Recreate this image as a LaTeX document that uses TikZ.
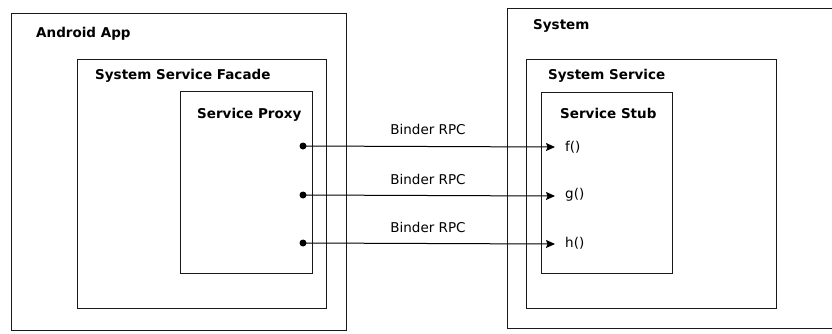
\documentclass[tikz,border=0pt]{standalone}
\usepackage{fontspec}
\setmainfont{DejaVu Sans}
\usetikzlibrary{arrows.meta}
\begin{document}
\begin{tikzpicture}[x=1pt,y=-1pt,
  box/.style={draw=black!90,line width=1pt,anchor=north west,inner sep=0pt},
  ttl/.style={anchor=base west,inner sep=0pt,font=\fontsize{13.5}{16}\selectfont\bfseries},
  lbl/.style={anchor=base,inner sep=0pt,font=\fontsize{13.5}{16}\selectfont},
  fn/.style={anchor=west,inner sep=0pt,font=\fontsize{13.5}{16}\selectfont},
  dotn/.style={circle,fill=black,inner sep=0pt,minimum size=7pt},
  rpc/.style={line width=1pt,-{Stealth[length=9pt,width=8pt,inset=1.5pt]}}]
\useasboundingbox (0,0) rectangle (832,333);
% left side
\node[box,minimum width=335pt,minimum height=317pt] (app) at (11,13) {};
\node[box,minimum width=249pt,minimum height=249pt] (facade) at (77,59) {};
\node[box,minimum width=132pt,minimum height=182pt] (proxy) at (180,91) {};
\node[ttl] (tapp) at (36,37) {Android App};
\node[ttl] (tfacade) at (95,79) {System Service Facade};
\node[ttl] (tproxy) at (197,118) {Service Proxy};
% right side
\node[box,minimum width=330pt,minimum height=320pt] (sys) at (507,8) {};
\node[box,minimum width=250pt,minimum height=249pt] (svc) at (526,59) {};
\node[box,minimum width=131pt,minimum height=181pt] (stub) at (541,92) {};
\node[ttl] (tsys) at (533,29) {System};
\node[ttl] (tsvc) at (548,79) {System Service};
\node[ttl] (tstub) at (560,118) {Service Stub};
% dots
\node[dotn] (p1) at (303,146) {};
\node[dotn] (p2) at (303,195) {};
\node[dotn] (p3) at (303,243) {};
% targets
\coordinate (a1) at (555,147);
\coordinate (a2) at (555,196);
\coordinate (a3) at (555,244);
\node[fn] (f) at (565,147) {f()};
\node[fn] (g) at (565,195) {g()};
\node[fn] (h) at (565,243) {h()};
\draw[rpc] (p1.center) -- (a1);
\draw[rpc] (p2.center) -- (a2);
\draw[rpc] (p3.center) -- (a3);
\node[lbl] (l1) at (428,134) {Binder RPC};
\node[lbl] (l2) at (428,184) {Binder RPC};
\node[lbl] (l3) at (428,232) {Binder RPC};
\end{tikzpicture}
\end{document}
